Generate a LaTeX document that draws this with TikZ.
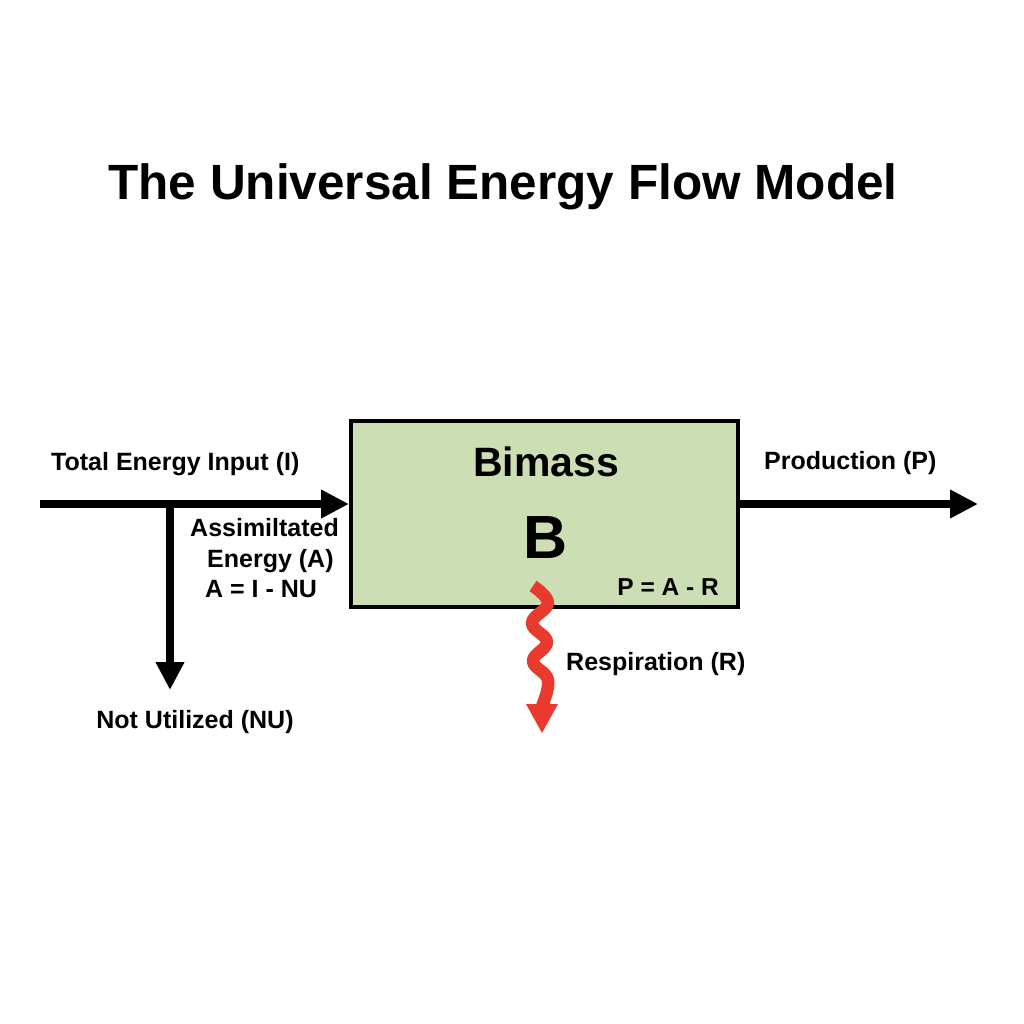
\documentclass[tikz,border=0pt]{standalone}
\usepackage{fontspec}
\setmainfont{Liberation Sans}
\usetikzlibrary{arrows.meta}
\definecolor{boxgreen}{RGB}{203,222,180}
\definecolor{resred}{RGB}{232,58,46}
\tikzset{
  flow/.style={line width=8pt, -{Triangle[length=28pt,width=27pt]}},
  lbl/.style={inner sep=0pt, font=\fontsize{25}{29}\selectfont\bfseries},
  biomass/.style={draw=black, line width=4pt, fill=boxgreen, minimum width=387pt, minimum height=186pt, inner sep=0pt},
  wave/.style={draw=resred, line width=12.5pt, line join=round},
}
\begin{document}
\begin{tikzpicture}[x=1pt,y=-1pt]
\useasboundingbox (0,0) rectangle (1024,1024);
\node[inner sep=0pt, font=\fontsize{49.5}{55}\selectfont\bfseries, anchor=base] (title) at (503,200) {The Universal Energy Flow Model};
\node[biomass] (box) at (544.5,514) {};
\node[lbl, font=\fontsize{41}{45}\selectfont\bfseries, anchor=base] (bim) at (546,476) {Bimass};
\node[lbl, font=\fontsize{61}{65}\selectfont\bfseries, anchor=base] (bigb) at (546,558) {B};
\node[lbl, font=\fontsize{24.5}{28}\selectfont\bfseries, anchor=base east] (par) at (719,595) {P = A - R};
\coordinate (in) at (40,504);
\coordinate (br) at (170,504);
\coordinate (nuend) at (170,690);
\coordinate (outend) at (978,504);
\draw[flow] (in) -- (in -| box.west);
\draw[flow] (br) -- (nuend);
\draw[flow] (box.east |- outend) -- (outend);
\node[lbl, anchor=base west] (tei) at (51,470) {Total Energy Input (I)};
\node[lbl, anchor=base west] (prod) at (764,469) {Production (P)};
\node[lbl, anchor=base west] (as1) at (190,536) {Assimiltated};
\node[lbl, anchor=base west] (as2) at (207,567) {Energy (A)};
\node[lbl, anchor=base west] (as3) at (205,597) {A = I - NU};
\node[lbl, anchor=base] (nu) at (195,728) {Not Utilized (NU)};
\node[lbl, anchor=base west] (resp) at (566,670) {Respiration (R)};
\coordinate (w0) at (533,586);
\draw[wave] plot[smooth, tension=0.7] coordinates {(w0) (548,603) (532,623) (547,642) (533,661) (548,680) (542,706)};
\fill[resred] (526,704) -- (558,704) -- (542,733) -- cycle;
\end{tikzpicture}
\end{document}
